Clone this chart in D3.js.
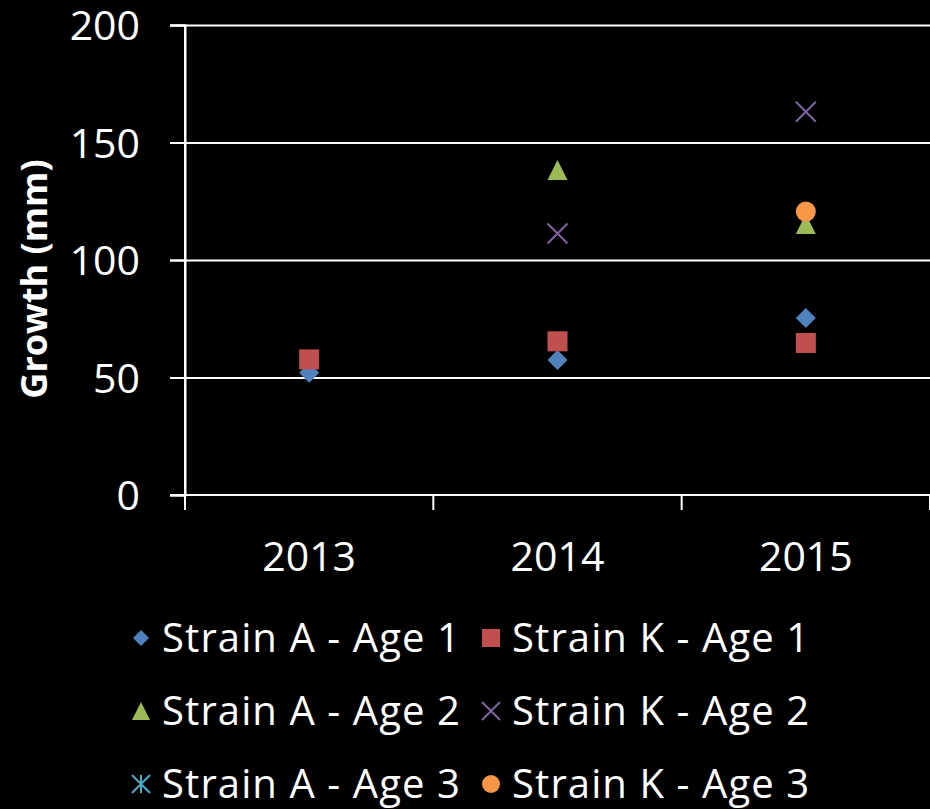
<!DOCTYPE html>
<html>
<head>
<meta charset="utf-8">
<script src="https://cdn.jsdelivr.net/npm/d3@7"></script>
<style>
    html, body { margin: 0; padding: 0; background: #000; }
    svg, svg text { font-family: "Open Sans", sans-serif; }
    .grid line { stroke: #fff; stroke-width: 2; }
    .grid path { display: none; }
    .axis path, .axis line { stroke: #fff; stroke-width: 2; }
    .axis text { fill: #fff; }
</style>
</head>
<body>
<div id="chart"></div>
<script>
"use strict";

var years = ["2013", "2014", "2015"];
var yTicks = [0, 50, 100, 150, 200];
var seriesNames = [
    "Strain A - Age 1", "Strain K - Age 1",
    "Strain A - Age 2", "Strain K - Age 2",
    "Strain A - Age 3", "Strain K - Age 3"
];
// values per year, null where there is no point
var strainAAge1 = [52, 57.5, 75.3];
var strainKAge1 = [57.7, 65.4, 64.7];
var strainAAge2 = [null, 138.3, 115.3];
var strainKAge2 = [null, 111.3, 163.1];
var strainAAge3 = [null, null, null];
var strainKAge3 = [null, null, 120.6];

var seriesValues = [strainAAge1, strainKAge1, strainAAge2, strainKAge2, strainAAge3, strainKAge3];
var colors = ["#4F81BD", "#C0504D", "#9BBB59", "#8064A2", "#4BACC6", "#F79646"];
var shapes = ["diamond", "square", "triangle", "x", "star", "circle"];

var margin = {top: 25, right: 0, bottom: 314, left: 185},
    width = 930 - margin.left - margin.right,
    height = 809 - margin.top - margin.bottom;

var svg = d3.select("#chart").append("svg")
    .attr("width", 930)
    .attr("height", 809);

svg.append("rect").attr("width", 930).attr("height", 809).attr("fill", "#000");

var g = svg.append("g")
    .attr("transform", "translate(" + margin.left + "," + margin.top + ")");

var xScale = d3.scaleBand().domain(years).range([0, width]);
var yScale = d3.scaleLinear().domain([0, 200]).range([height, 0]);

// Horizontal grid lines, extending left of the axis like tick marks
g.append("g")
    .attr("class", "grid")
    .call(d3.axisLeft(yScale).tickValues(yTicks.slice(1)).tickSize(-width).tickFormat(""))
    .selectAll("line")
    .attr("x1", -15);

// Y axis
var yAxisG = g.append("g")
    .attr("class", "axis")
    .call(d3.axisLeft(yScale).tickValues(yTicks).tickSize(15).tickPadding(30));
yAxisG.selectAll("text")
    .style("font-size", "41px")
    .attr("dy", "0.36em");

// X axis with ticks at the category boundaries
var xAxisG = g.append("g")
    .attr("class", "axis")
    .attr("transform", "translate(0," + height + ")")
    .call(d3.axisBottom(xScale).tickSize(0).tickPadding(47));
xAxisG.selectAll("text").style("font-size", "41px");
xAxisG.select(".domain").attr("d", "M-15,0H" + width);
xAxisG.selectAll(".boundary")
    .data([0, 1, 2, 3])
    .enter()
    .append("line")
    .attr("class", "boundary")
    .attr("x1", function(d) { return d * xScale.bandwidth(); })
    .attr("x2", function(d) { return d * xScale.bandwidth(); })
    .attr("y1", function(d) { return d === 0 ? -height : 0; })
    .attr("y2", 15);

// Y axis title
svg.append("text")
    .attr("transform", "translate(47,279) rotate(-90)")
    .attr("text-anchor", "middle")
    .attr("fill", "#fff")
    .style("font-size", "36px")
    .style("font-weight", "bold")
    .text("Growth (mm)");

function drawMarker(sel, shape, color, size) {
    var s = size / 2;
    if (shape === "diamond") {
        sel.append("path").attr("d", "M0," + (-s) + "L" + s + ",0L0," + s + "L" + (-s) + ",0Z")
            .attr("fill", color);
    } else if (shape === "square") {
        sel.append("rect").attr("x", -s).attr("y", -s).attr("width", size).attr("height", size)
            .attr("fill", color);
    } else if (shape === "triangle") {
        sel.append("path").attr("d", "M0," + (-s) + "L" + s + "," + s + "L" + (-s) + "," + s + "Z")
            .attr("fill", color);
    } else if (shape === "circle") {
        sel.append("circle").attr("r", s).attr("fill", color);
    } else if (shape === "x") {
        sel.append("path").attr("d", "M" + (-s) + "," + (-s) + "L" + s + "," + s + "M" + s + "," + (-s) + "L" + (-s) + "," + s)
            .attr("stroke", color).attr("stroke-width", 2).attr("fill", "none");
    } else if (shape === "star") {
        sel.append("path").attr("d", "M" + (-s) + "," + (-s) + "L" + s + "," + s + "M" + s + "," + (-s) + "L" + (-s) + "," + s + "M0," + (-s) + "L0," + s)
            .attr("stroke", color).attr("stroke-width", 2).attr("fill", "none");
    }
}

// Plot points, series in order so later ones sit on top
var points = g.append("g").attr("class", "points");
seriesValues.forEach(function(values, i) {
    values.forEach(function(v, j) {
        if (v === null) { return; }
        var m = points.append("g")
            .attr("transform", "translate(" + (xScale(years[j]) + xScale.bandwidth() / 2) + "," + yScale(v) + ")");
        drawMarker(m, shapes[i], colors[i], 20);
    });
});

// Legend: two columns, three rows
var legend = svg.append("g").attr("class", "legend");
seriesNames.forEach(function(name, i) {
    var col = i % 2, row = Math.floor(i / 2);
    var item = legend.append("g")
        .attr("transform", "translate(" + (141 + col * 350) + "," + (652 + row * 73) + ")");
    var mk = item.append("g").attr("transform", "translate(0,-14)");
    drawMarker(mk, shapes[i], colors[i], i === 0 ? 16 : 18);
    item.append("text")
        .attr("x", 21)
        .attr("fill", "#fff")
        .style("font-size", "40px")
        .style("letter-spacing", "1.1px")
        .text(name);
});
</script>
</body>
</html>
